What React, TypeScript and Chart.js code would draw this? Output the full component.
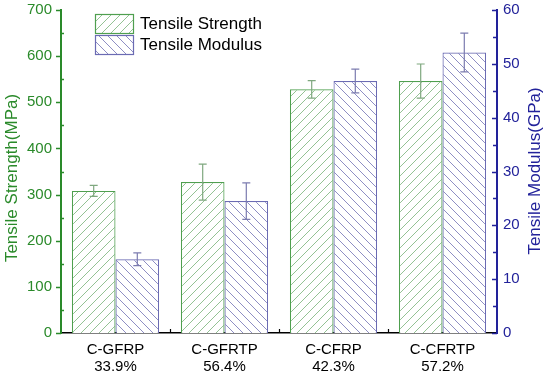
import React, { useEffect, useRef } from "react";
import { Chart, registerables } from "chart.js";

Chart.register(...registerables);

const categories: string[][] = [
  ["C-GFRP", "33.9%"],
  ["C-GFRTP", "56.4%"],
  ["C-CFRP", "42.3%"],
  ["C-CFRTP", "57.2%"],
];
const strength: number[] = [308, 327, 528, 546];
const strengthErr: number[] = [12, 39, 19, 37];
const modulus: number[] = [13.7, 24.5, 46.8, 52.1];
const modulusErr: number[] = [1.2, 3.4, 2.2, 3.6];
const leftTicks = { min: 0, max: 700, step: 100 };
const rightTicks = { min: 0, max: 60, step: 10 };
const leftTitle = "Tensile Strength(MPa)";
const rightTitle = "Tensile Modulus(GPa)";

const GREEN = "#2a8a2a";
const BLUE = "#22229a";
const GREEN_BORDER = "#4f9f4f";
const BLUE_BORDER = "#6b6bb3";
const GREEN_HATCH = "#94c294";
const BLUE_HATCH = "#8e8ec4";
const FONT = "'Liberation Sans', Arial, sans-serif";

function makeHatch(color: string, forward: boolean): CanvasPattern | string {
  const s = 9;
  const c = document.createElement("canvas");
  c.width = s;
  c.height = s;
  const ctx = c.getContext("2d");
  if (!ctx) return color;
  ctx.fillStyle = "#ffffff";
  ctx.fillRect(0, 0, s, s);
  ctx.strokeStyle = color;
  ctx.lineWidth = 1;
  ctx.beginPath();
  if (forward) {
    ctx.moveTo(0, s);
    ctx.lineTo(s, 0);
    ctx.moveTo(-s / 2, s / 2);
    ctx.lineTo(s / 2, -s / 2);
    ctx.moveTo(s / 2, s * 1.5);
    ctx.lineTo(s * 1.5, s / 2);
  } else {
    ctx.moveTo(0, 0);
    ctx.lineTo(s, s);
    ctx.moveTo(-s / 2, s / 2);
    ctx.lineTo(s / 2, s * 1.5);
    ctx.moveTo(s / 2, -s / 2);
    ctx.lineTo(s * 1.5, s / 2);
  }
  ctx.stroke();
  const p = ctx.createPattern(c, "repeat");
  return p || color;
}

export default function App() {
  const ref = useRef<HTMLCanvasElement | null>(null);

  useEffect(() => {
    document.body.style.margin = "0";
    const canvas = ref.current;
    if (!canvas) return;
    const greenPat = makeHatch(GREEN_HATCH, true);
    const bluePat = makeHatch(BLUE_HATCH, false);

    const errs = [strengthErr, modulusErr];
    const errColors = ["#7fa87f", "#7c7cb0"];

    const overlay = {
      id: "overlay",
      afterDatasetsDraw(chart: any) {
        const ctx = chart.ctx as CanvasRenderingContext2D;
        chart.data.datasets.forEach((ds: any, i: number) => {
          const meta = chart.getDatasetMeta(i);
          const sc = chart.scales[ds.yAxisID];
          meta.data.forEach((el: any, j: number) => {
            const v = ds.data[j];
            const e = errs[i][j];
            const yt = sc.getPixelForValue(v + e);
            const yb = sc.getPixelForValue(v - e);
            const x = el.x;
            ctx.save();
            ctx.strokeStyle = errColors[i];
            ctx.lineWidth = 1.2;
            ctx.beginPath();
            ctx.moveTo(x, yt);
            ctx.lineTo(x, yb);
            ctx.moveTo(x - 4, yt);
            ctx.lineTo(x + 4, yt);
            ctx.moveTo(x - 4, yb);
            ctx.lineTo(x + 4, yb);
            ctx.stroke();
            ctx.restore();
          });
        });
      },
      afterDraw(chart: any) {
        const ctx = chart.ctx as CanvasRenderingContext2D;
        const area = chart.chartArea;
        const yL = chart.scales.y;
        const yR = chart.scales.y1;
        const xS = chart.scales.x;
        ctx.save();
        ctx.strokeStyle = GREEN;
        ctx.lineWidth = 1.5;
        ctx.beginPath();
        for (let v = leftTicks.min; v <= leftTicks.max; v += leftTicks.step / 2) {
          const y = Math.round(yL.getPixelForValue(v)) + 0.5;
          const major = v % leftTicks.step === 0;
          if (major) {
            ctx.moveTo(area.left - 5, y);
            ctx.lineTo(area.left, y);
          } else {
            ctx.moveTo(area.left, y);
            ctx.lineTo(area.left + 3, y);
          }
        }
        ctx.stroke();
        ctx.strokeStyle = BLUE;
        ctx.beginPath();
        for (let v = rightTicks.min; v <= rightTicks.max; v += rightTicks.step / 2) {
          const y = Math.round(yR.getPixelForValue(v)) + 0.5;
          const major = v % rightTicks.step === 0;
          ctx.moveTo(area.right, y);
          ctx.lineTo(area.right - (major ? 5 : 4), y);
        }
        ctx.stroke();
        ctx.strokeStyle = "#000";
        ctx.lineWidth = 1.2;
        ctx.beginPath();
        for (let i = 1; i < categories.length; i++) {
          const x = Math.round((xS.getPixelForValue(i - 1) + xS.getPixelForValue(i)) / 2) + 0.5;
          ctx.moveTo(x, area.bottom);
          ctx.lineTo(x, area.bottom - 4);
        }
        ctx.stroke();

        // axis titles (both read bottom-to-top)
        ctx.font = `17px ${FONT}`;
        ctx.textAlign = "center";
        ctx.textBaseline = "middle";
        ctx.save();
        ctx.translate(12, 178);
        ctx.rotate(-Math.PI / 2);
        ctx.fillStyle = GREEN;
        ctx.fillText(leftTitle, 0, 0);
        ctx.restore();
        ctx.save();
        ctx.translate(535, 171);
        ctx.rotate(-Math.PI / 2);
        ctx.fillStyle = BLUE;
        ctx.fillText(rightTitle, 0, 0);
        ctx.restore();

        // legend
        const items = [
          { label: "Tensile Strength", fill: greenPat, border: GREEN_BORDER, y: 14 },
          { label: "Tensile Modulus", fill: bluePat, border: BLUE_BORDER, y: 35 },
        ];
        items.forEach((it) => {
          ctx.fillStyle = it.fill as any;
          ctx.fillRect(95, it.y, 38, 19);
          ctx.strokeStyle = it.border;
          ctx.lineWidth = 1.2;
          ctx.strokeRect(95.5, it.y + 0.5, 38, 19);
          ctx.fillStyle = "#000";
          ctx.font = `17px ${FONT}`;
          ctx.textBaseline = "middle";
          ctx.textAlign = "left";
          ctx.fillText(it.label, 140, it.y + 10);
        });
        ctx.restore();
      },
    };

    const chart = new Chart(canvas, {
      type: "bar",
      data: {
        labels: categories,
        datasets: [
          {
            label: "Tensile Strength",
            data: strength,
            yAxisID: "y",
            backgroundColor: greenPat as any,
            borderColor: GREEN_BORDER,
            borderWidth: 1.2,
            borderSkipped: "bottom",
            barPercentage: 1,
            categoryPercentage: 0.8,
          },
          {
            label: "Tensile Modulus",
            data: modulus,
            yAxisID: "y1",
            backgroundColor: bluePat as any,
            borderColor: BLUE_BORDER,
            borderWidth: 1.2,
            borderSkipped: "bottom",
            barPercentage: 1,
            categoryPercentage: 0.8,
          },
        ],
      },
      options: {
        animation: false,
        responsive: false,
        maintainAspectRatio: false,
        layout: { padding: { top: 4, left: 0, right: 0, bottom: 0 } },
        plugins: {
          legend: { display: false },
          tooltip: { enabled: false },
        },
        scales: {
          x: {
            grid: { display: false },
            border: { display: true, color: "#000", width: 1.5 },
            ticks: {
              color: "#000",
              font: { family: FONT, size: 15, lineHeight: 1.15 },
              padding: 0,
              maxRotation: 0,
            },
            afterFit(scale: any) {
              scale.height = 47;
            },
          },
          y: {
            position: "left",
            min: leftTicks.min,
            max: leftTicks.max,
            grid: { display: false },
            border: { display: true, color: GREEN, width: 2 },
            ticks: {
              stepSize: leftTicks.step,
              color: GREEN,
              font: { family: FONT, size: 15 },
              padding: 1,
            },
            afterFit(scale: any) {
              scale.width = 61;
            },
          },
          y1: {
            position: "right",
            min: rightTicks.min,
            max: rightTicks.max,
            grid: { display: false },
            border: { display: true, color: BLUE, width: 2 },
            ticks: {
              stepSize: rightTicks.step,
              color: BLUE,
              font: { family: FONT, size: 15 },
              padding: -2,
            },
            afterFit(scale: any) {
              scale.width = 53;
            },
          },
        },
      },
      plugins: [overlay],
    });
    return () => chart.destroy();
  }, []);

  return (
    <div style={{ width: 550, height: 380, position: "relative" }}>
      <canvas ref={ref} width={550} height={380} style={{ display: "block" }} />
    </div>
  );
}
